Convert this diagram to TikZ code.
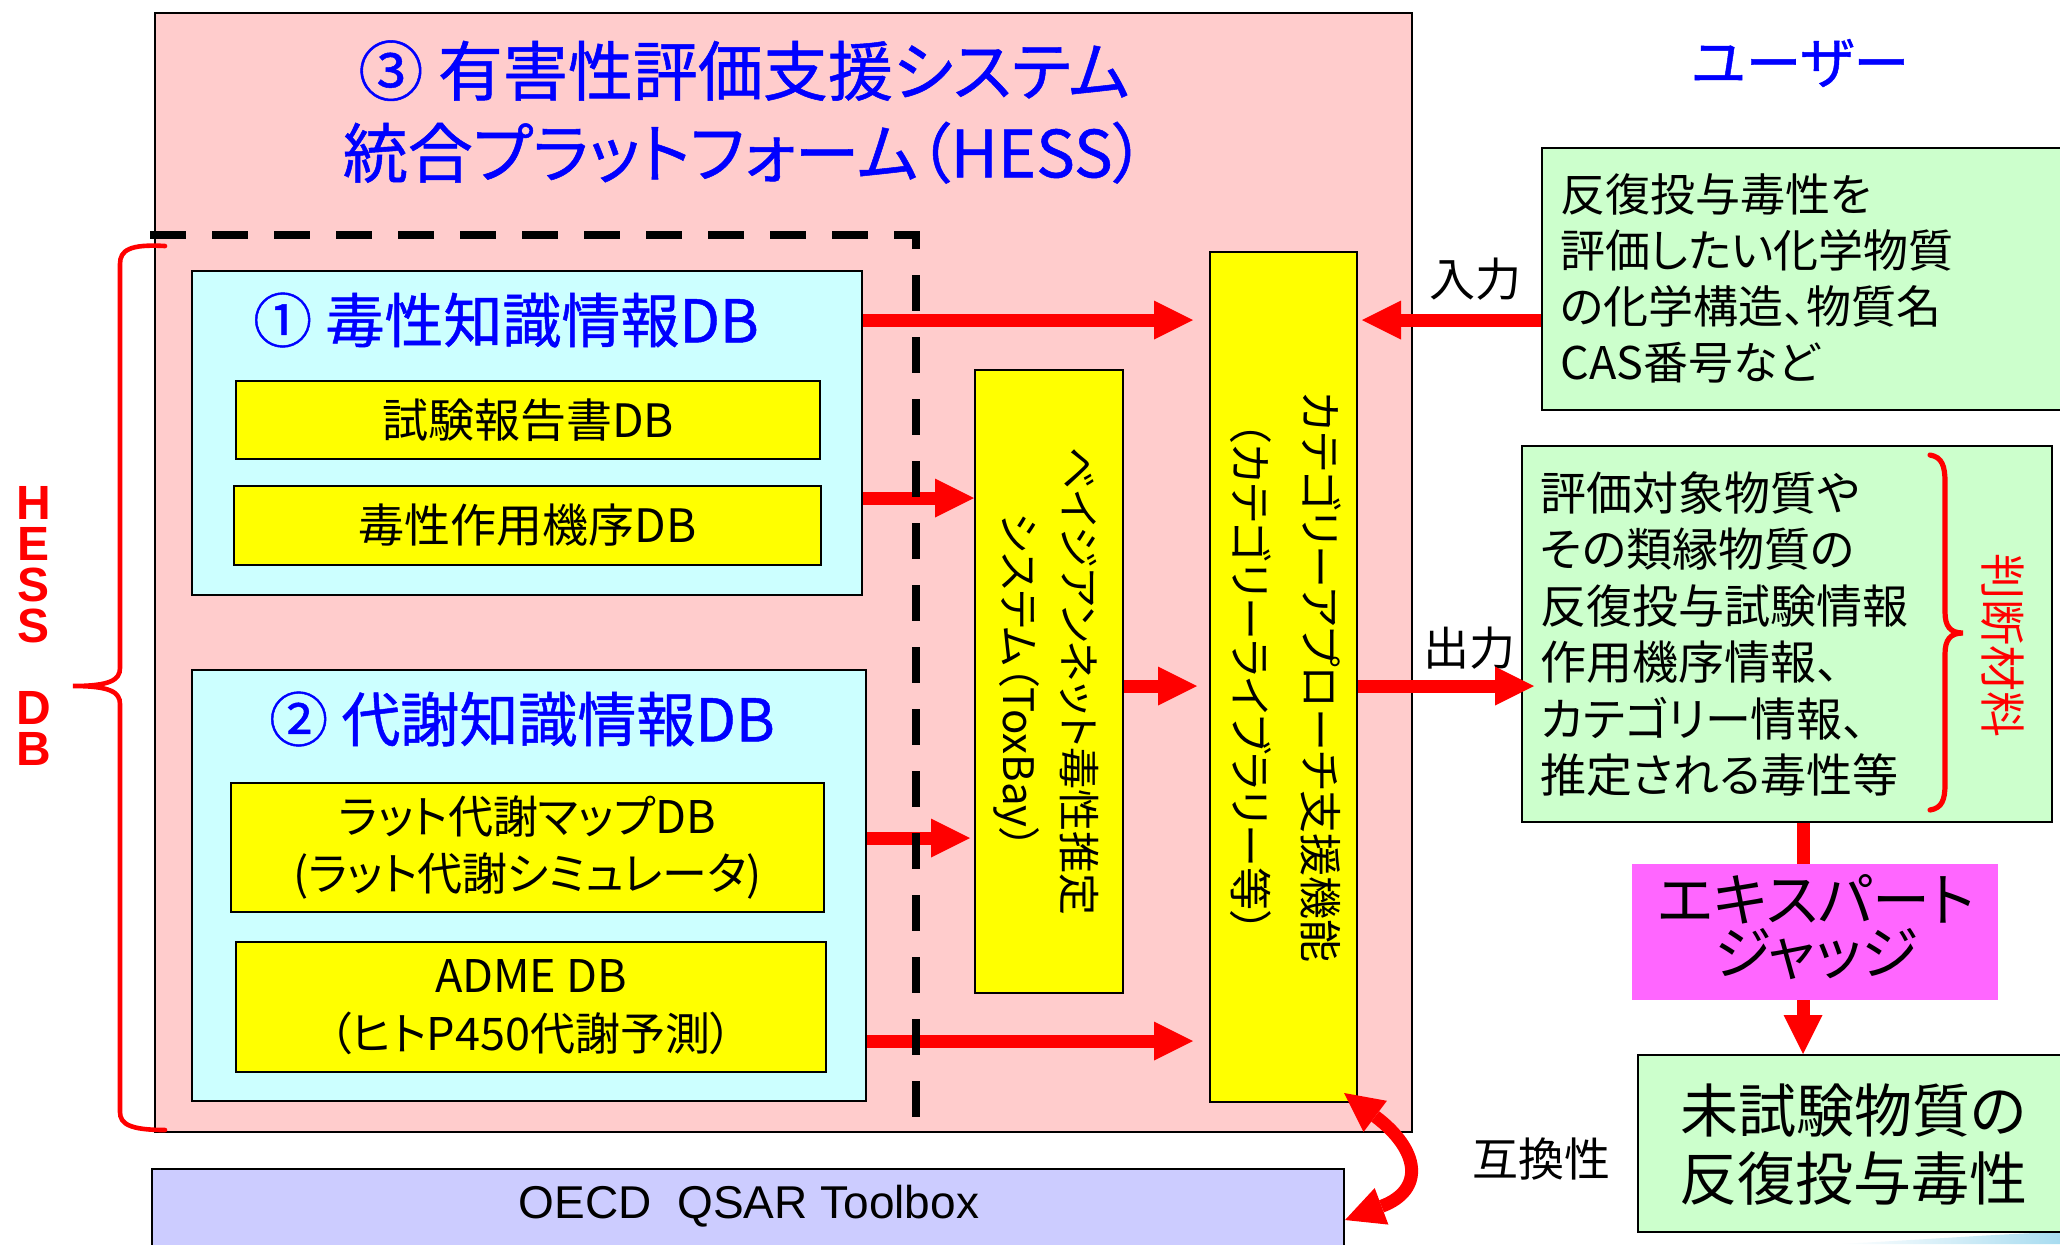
\documentclass[tikz,border=0pt]{standalone}
\usepackage{fontspec}
\setmainfont{Noto Sans CJK JP}[RawFeature=+palt]
\newfontfamily\titlefont{Noto Sans CJK JP}[RawFeature=+palt, FakeBold=0.8]
\newfontfamily\latinfont{Liberation Sans}
\usetikzlibrary{arrows.meta,fit}
\definecolor{pinkbg}{HTML}{FFCCCC}
\definecolor{cyanbg}{HTML}{CCFFFF}
\definecolor{yelbg}{HTML}{FFFF00}
\definecolor{greenbg}{HTML}{CCFFCC}
\definecolor{magbg}{HTML}{FF66FF}
\definecolor{lavbg}{HTML}{CCCCFF}
\definecolor{tblue}{HTML}{0000FF}
\definecolor{tred}{HTML}{FF0000}
\definecolor{swoosh}{HTML}{A8DCF0}
\newcommand{\fsz}[2]{\fontsize{#1pt}{#2pt}\selectfont}
\begin{document}
\begin{tikzpicture}[x=0.5pt,y=-0.5pt,
  boxline/.style={draw=black, line width=1pt, inner sep=0pt},
  panel/.style={boxline, fill=pinkbg},
  cyanbox/.style={boxline, fill=cyanbg},
  ybox/.style={boxline, fill=yelbg},
  greenbox/.style={boxline, fill=greenbg},
  judgebox/.style={fill=magbg, draw=none, inner sep=0pt},
  oecdbox/.style={boxline, fill=lavbg},
  plain/.style={inner sep=0pt, align=center, text=black},
  bluetitle/.style={plain, text=tblue, font=\titlefont\fsz{29.5}{34}},
  ytext/.style={plain, font=\fsz{22.5}{28.5}},
  vtext/.style={plain, rotate=-90, font=\fsz{21}{30}},
  bigarrow/.style={draw=tred, line width=6.5pt, -{Triangle[length=19.5pt,width=19.5pt,line width=0pt]}},
  redline/.style={draw=tred, line width=6.5pt},
  bracestyle/.style={draw=tred, line width=2.3pt, line cap=round},
  divider/.style={draw=black, line width=3.75pt, dash pattern=on 18pt off 13pt}
]
\useasboundingbox (0,0) rectangle (2060,1244);
\fill[white] (0,0) rectangle (2060,1244);
\shade[left color=white, right color=swoosh] (1840,1244) .. controls (1950,1238) and (2000,1234) .. (2060,1232) -- (2060,1244) -- cycle;

% main panel
\node[panel, fit={(155,13) (1412,1132)}] (hess) {};
\node[plain, text=tblue, font=\titlefont\fsz{32.5}{41}] (title) at (744,112) {③ 有害性評価支援システム\\統合プラットフォーム（HESS）};

% toxicity knowledge DB
\node[cyanbox, fit={(192,271) (862,595)}] (db1) {};
\node[bluetitle] (db1t) at (506,320) {① 毒性知識情報DB};
\node[ybox, fit={(236,381) (820,459)}] (report) {};
\node[ytext, font=\fsz{23}{28.5}] (reportt) at (report.center) {試験報告書DB};
\node[ybox, fit={(234,486) (821,565)}] (moa) {};
\node[ytext, font=\fsz{23}{28.5}] (moat) at (moa.center) {毒性作用機序DB};

% metabolism knowledge DB
\node[cyanbox, fit={(192,670) (866,1101)}] (db2) {};
\node[bluetitle] (db2t) at (522,719) {② 代謝知識情報DB};
\node[ybox, fit={(231,783) (824,912)}] (rat) {};
\node[ytext] (ratt) at (rat.center) {ラット代謝マップDB\\(ラット代謝シミュレータ)};
\node[ybox, fit={(236,942) (826,1072)}] (adme) {};
\node[ytext, font=\fsz{22.5}{29}] (admet) at (adme.center) {ADME DB\\（ヒトP450代謝予測）};

% ToxBay and category approach
\node[ybox, fit={(975,370) (1123,993)}] (tox) {};
\node[vtext] (toxt) at (1046,681) {ベイジアンネット毒性推定\\システム（ToxBay）};
\node[ybox, fit={(1210,252) (1357,1102)}] (cat) {};
\node[vtext, font=\fsz{21.5}{35}] (catt) at (1286,677) {カテゴリーアプローチ支援機能\\（カテゴリーライブラリー等）};

% OECD toolbox
\node[oecdbox, fit={(152,1169) (1344,1258)}] (oecd) {};
\node[plain, font=\latinfont\fsz{23}{28}] (oecdt) at (749,1206) {OECD\ \ QSAR Toolbox};

% user side
\node[plain, text=tblue, font=\titlefont\fsz{28}{34}] (user) at (1800,63) {ユーザー};
\node[greenbox, fit={(1542,148) (2066,410)}] (inbox) {};
\node[plain, align=left, anchor=west, font=\fsz{22.5}{28}] (inboxt) at (1560,278) {反復投与毒性を\\評価したい化学物質\\の化学構造、物質名\\CAS番号など};
\node[greenbox, fit={(1522,446) (2052,822)}] (outbox) {};
\node[plain, align=left, anchor=west, font=\fsz{23}{28.2}] (outboxt) at (1540,634) {評価対象物質や\\その類縁物質の\\反復投与試験情報\\作用機序情報、\\カテゴリー情報、\\推定される毒性等};
\node[judgebox, fit={(1632,864) (1998,1000)}] (judge) {};
\node[plain, font=\fsz{29}{26.5}] (judget) at (1816,927) {エキスパート\\ジャッジ};
\node[greenbox, fit={(1638,1055) (2066,1232)}] (final) {};
\node[plain, font=\fsz{29}{34}] (finalt) at (1853,1145) {未試験物質の\\反復投与毒性};

% labels
\node[plain, font=\fsz{23}{28}] (inlabel) at (1475,279) {入力};
\node[plain, font=\fsz{23}{28}] (outlabel) at (1469,648) {出力};
\node[plain, font=\fsz{23}{28}] (compat) at (1541,1159) {互換性};
\node[plain, text=tred, rotate=-90, font=\fsz{23}{28}] (judgemat) at (2003,645) {判断材料};
\node[plain, text=tred, font=\latinfont\bfseries\fsz{24}{20.5}] (hessdb) at (34,626) {H\\E\\S\\S\\[20.5pt]D\\B};

% helper coordinates for connector rows and columns
\coordinate (r320) at (0,320);
\coordinate (r498) at (0,498);
\coordinate (r686) at (0,686);
\coordinate (r838) at (0,838);
\coordinate (r1041) at (0,1041);
\coordinate (r1220) at (0,1220);
\coordinate (c1803) at (1803,0);

% connectors
\draw[bigarrow, shorten >=8pt] (db1.east |- r320) -- (cat.west |- r320);
\draw[bigarrow] (db1.east |- r498) -- (tox.west |- r498);
\draw[bigarrow, shorten >=6pt] (tox.east |- r686) -- (cat.west |- r686);
\draw[bigarrow, shorten >=2pt] (db2.east |- r838) -- (tox.west |- r838);
\draw[bigarrow, shorten >=8pt] (db2.east |- r1041) -- (cat.west |- r1041);
\draw[bigarrow, shorten >=2pt] (inbox.west |- r320) -- (cat.east |- r320);
\draw[bigarrow, shorten >=-6.5pt] (cat.east |- r686) -- (outbox.west |- r686);
\draw[redline] (outbox.south -| c1803) -- (judge.north -| c1803);
\draw[bigarrow] (judge.south -| c1803) -- (final.north -| c1803);
\draw[draw=tred, line width=6.5pt, {Triangle[length=19.5pt,width=19.5pt,line width=0pt]}-{Triangle[length=19.5pt,width=19.5pt,line width=0pt]}]
  ([shift={(-14,-10)}]cat.south east) .. controls (1420,1150) and (1425,1190) .. (oecd.east |- r1220);

% dashed divider
\draw[divider] (150,235) -- (916,235) -- (916,1127);

% braces
\draw[bracestyle] (165,246) .. controls (130,244) and (120,250) .. (120,264) -- (120,668) .. controls (120,680) and (110,686) .. (73,686) .. controls (110,686) and (120,692) .. (120,704) -- (120,1112) .. controls (120,1124) and (130,1130) .. (165,1130);
\draw[bracestyle, line width=2.6pt] (1930,455) .. controls (1942,457) and (1945,466) .. (1945,482) -- (1945,612) .. controls (1945,626) and (1950,633) .. (1963,633) .. controls (1950,633) and (1945,640) .. (1945,654) -- (1945,784) .. controls (1945,800) and (1942,808) .. (1930,810);
\end{tikzpicture}
\end{document}
